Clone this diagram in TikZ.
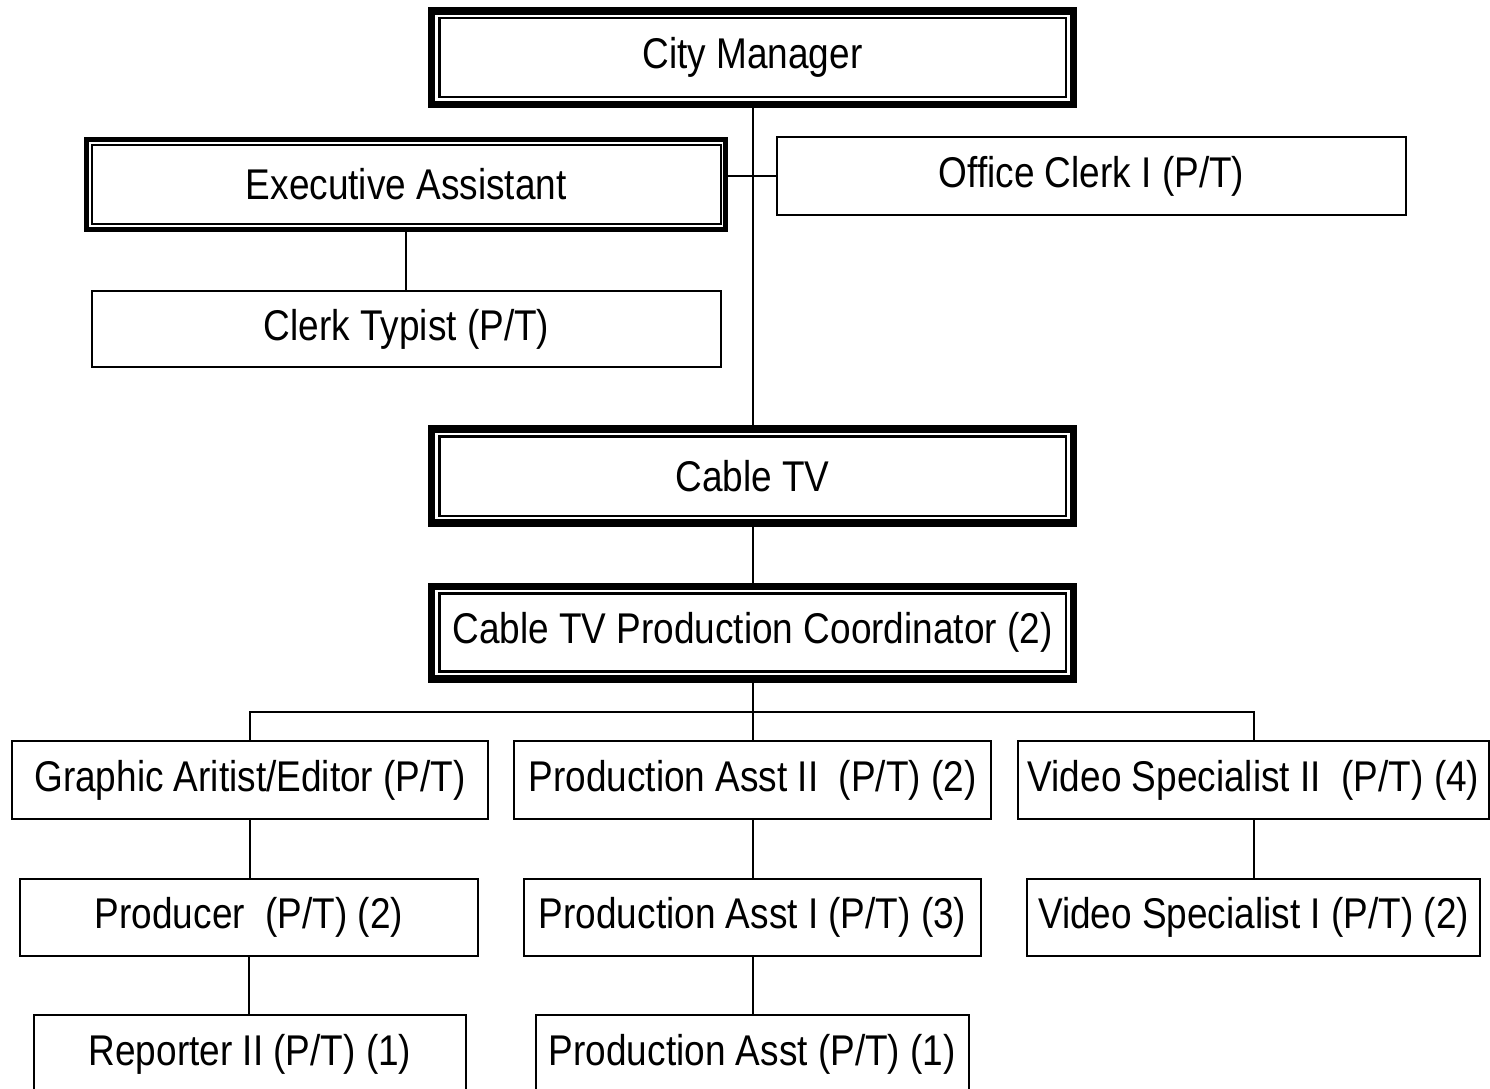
\documentclass[tikz,border=0pt]{standalone}
\usepackage{fontspec}
\setmainfont{Liberation Sans}[FakeStretch=0.86]
\begin{document}
\begin{tikzpicture}[x=1pt,y=-1pt,
  every node/.style={font=\fontsize{43}{50}\selectfont, inner sep=0pt, align=center},
  thinbox/.style={draw, line width=2pt},
  dblbox/.style={draw, line width=7.5pt},
  dblboxb/.style={draw, line width=5pt},
  innerline/.style={line width=2.5pt},
  conn/.style={line width=2pt}]
\clip (0,0) rectangle (1490,1088);
\fill[white] (0,0) rectangle (1490,1088);

% double boxes
\node[dblbox, minimum width=642pt, minimum height=93.5pt] (cm) at (752.5,57.5) {City Manager};
\draw[innerline] ([shift={(11.5,11)}]cm.north west) rectangle ([shift={(-11.5,-11)}]cm.south east);

\node[dblboxb, minimum width=638.7pt, minimum height=90.6pt] (ea) at (406.2,184.5) {Executive Assistant};
\draw[line width=2pt] ([shift={(8,8.5)}]ea.north west) rectangle ([shift={(-7,-8.5)}]ea.south east);

\node[dblbox, minimum width=642pt, minimum height=94pt] (ctv) at (752.5,476) {Cable TV};
\draw[innerline] ([shift={(11.5,11)}]ctv.north west) rectangle ([shift={(-11.5,-11)}]ctv.south east);

\node[dblbox, minimum width=642pt, minimum height=92.5pt] (cpc) at (752.5,632.7) {Cable TV Production Coordinator (2)};
\draw[innerline] ([shift={(11.5,11)}]cpc.north west) rectangle ([shift={(-11.5,-11)}]cpc.south east);

% thin boxes
\node[thinbox, minimum width=629pt, minimum height=78pt] (oc) at (1091.5,176) {Office Clerk I (P/T)};
\node[thinbox, minimum width=629pt, minimum height=76pt] (ct) at (406.5,329) {Clerk Typist (P/T)};

\node[thinbox, minimum width=476.6pt, minimum height=78pt] (ga) at (250,780) {Graphic Aritist/Editor (P/T)};
\node[thinbox, minimum width=476.7pt, minimum height=78pt] (pa2) at (752.6,780) {Production Asst II~ (P/T) (2)};
\node[thinbox, minimum width=471pt, minimum height=78pt] (vs2) at (1253.5,780) {Video Specialist II~ (P/T) (4)};

\node[thinbox, minimum width=457.7pt, minimum height=77pt] (pr) at (249,917) {Producer~ (P/T) (2)};
\node[thinbox, minimum width=456.7pt, minimum height=77pt] (pa1) at (752.6,917) {Production Asst I (P/T) (3)};
\node[thinbox, minimum width=453pt, minimum height=77pt] (vs1) at (1253.5,917) {Video Specialist I (P/T) (2)};

\node[thinbox, minimum width=432.3pt, minimum height=78pt] (rp) at (250,1054) {Reporter II (P/T) (1)};
\node[thinbox, minimum width=433.3pt, minimum height=78pt] (pa0) at (752.3,1054) {Production Asst (P/T) (1)};

% connectors
\draw[conn] (cm.south) -- (cm.south |- ctv.north);
\draw[conn] (oc.west) -- (oc.west -| ea.east);
\draw[conn] (ea.south) -- (ea.south |- ct.north);
\draw[conn] (ctv.south) -- (ctv.south |- cpc.north);

\coordinate (bus) at (752.5,711.7);
\draw[conn] (cpc.south) -- (bus);
\draw[conn] (ga.north) |- (bus) -| (vs2.north);
\draw[conn] (bus) -- (bus |- pa2.north);

\draw[conn] (ga.south) -- (ga.south |- pr.north);
\draw[conn] (pr.south) -- (pr.south |- rp.north);
\draw[conn] (pa2.south) -- (pa2.south |- pa1.north);
\draw[conn] (pa1.south) -- (pa1.south |- pa0.north);
\draw[conn] (vs2.south) -- (vs2.south |- vs1.north);
\end{tikzpicture}
\end{document}
